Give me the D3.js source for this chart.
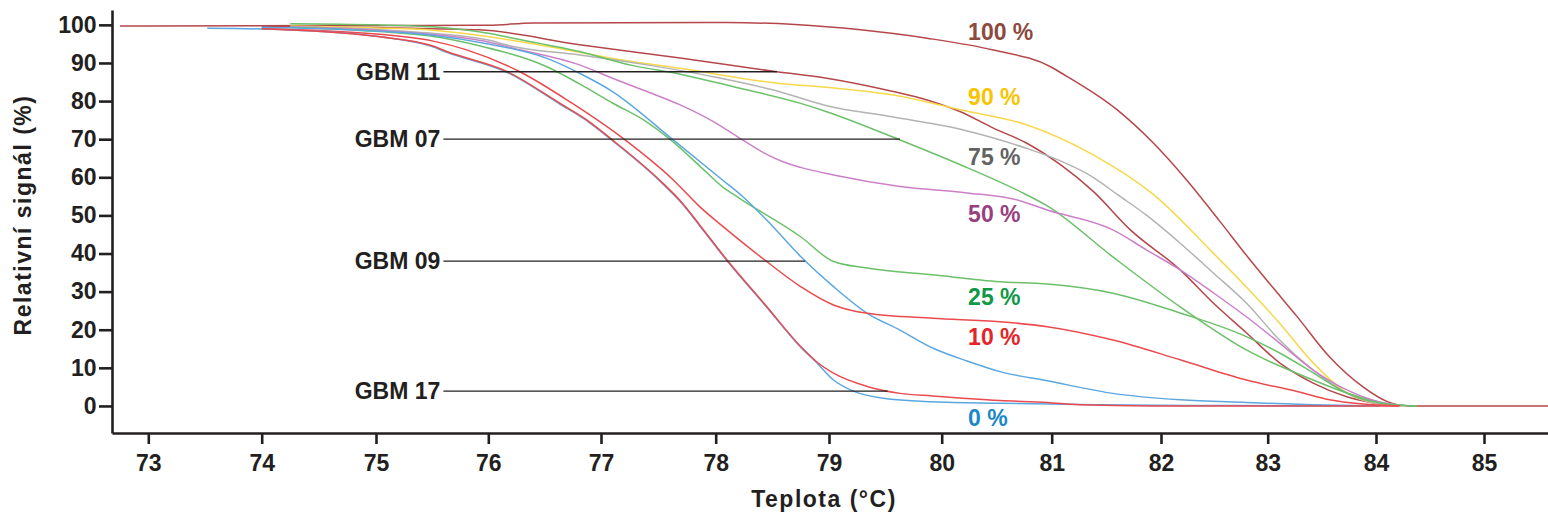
<!DOCTYPE html>
<html>
<head>
<meta charset="utf-8">
<script src="https://cdn.jsdelivr.net/npm/d3@7"></script>
<style>
  body { margin: 0; background: #fff; }
  svg { display: block; }
</style>
</head>
<body>
<script>
// ---- data ----
var xTicks = [73, 74, 75, 76, 77, 78, 79, 80, 81, 82, 83, 84, 85];
var yTicks = [0, 10, 20, 30, 40, 50, 60, 70, 80, 90, 100];

// each curve: [temperature, relative signal]
var curve100 = [[72.75,99.7],[74.5,99.8],[76.0,99.9],[76.4,100.5],[78.1,100.6],[78.7,100.1],[79.28,98.7],[79.87,96.5],[80.47,93.4],[80.99,89.0],[81.08,87.5],[81.60,77.7],[81.93,69.0],[82.24,59.3],[82.55,48.5],[82.83,38.5],[83.05,31.0],[83.27,23.5],[83.57,12.9],[83.88,5.0],[84.10,1.2],[84.31,0],[85.59,0]];
var curveGbm11 = [[74.0,99.6],[75.0,99.3],[75.5,99.0],[75.92,98.7],[76.81,94.8],[77.69,91.3],[78.54,87.7],[78.98,86.0],[79.57,82.5],[79.87,80.3],[80.17,77.2],[80.47,72.9],[80.77,69.0],[81.08,63.3],[81.38,56.3],[81.72,46.2],[82.18,35.7],[82.49,27.0],[82.80,19.2],[83.11,11.3],[83.42,6.0],[83.73,2.4],[84.04,0.5],[84.22,0]];
var curve90 = [[74.25,99.7],[75.0,99.2],[75.5,98.6],[75.77,97.8],[76.52,94.4],[77.10,91.2],[77.69,88.6],[78.54,84.7],[78.98,83.6],[79.57,81.6],[80.17,77.7],[80.77,73.8],[81.38,65.9],[81.93,55.5],[82.49,40.1],[82.80,31.2],[83.11,21.7],[83.42,11.3],[83.73,3.4],[84.04,0.5],[84.25,0]];
var curve75 = [[74.25,99.5],[75.0,98.8],[75.5,97.8],[76.0,96.0],[76.22,94.3],[76.81,92.1],[77.40,89.5],[77.98,86.4],[78.51,82.9],[78.98,78.8],[79.57,75.8],[80.17,72.6],[80.47,70.3],[80.77,67.6],[81.08,64.3],[81.38,60.0],[81.60,55.5],[81.87,50.0],[82.18,42.7],[82.49,34.9],[82.80,27.0],[83.11,17.3],[83.42,9.4],[83.73,3.4],[84.04,0.5],[84.25,0]];
var curveGbm07 = [[74.25,100.3],[75.0,100.0],[75.5,99.5],[76.0,97.8],[76.22,96.5],[76.81,93.0],[77.28,89.3],[77.70,87.0],[78.15,83.8],[78.75,79.4],[78.98,77.2],[79.63,69.8],[80.17,63.3],[80.71,56.3],[80.96,52.5],[81.56,39.1],[82.18,26.0],[82.80,14.7],[83.42,6.8],[83.73,3.4],[84.04,1.0],[84.34,0],[84.38,0]];
var curve50 = [[74.25,99.5],[75.0,98.6],[75.5,97.5],[76.0,95.5],[76.22,93.9],[76.81,89.5],[77.10,86.0],[77.40,82.5],[77.69,79.0],[77.98,74.6],[78.20,70.5],[78.45,66.0],[78.60,64.0],[78.75,62.6],[79.04,60.6],[79.63,57.6],[80.23,55.9],[80.68,54.1],[80.96,51.4],[81.56,46.2],[81.87,40.9],[82.18,35.7],[82.49,29.7],[82.80,23.4],[83.11,16.5],[83.42,9.4],[83.73,4.2],[84.04,1.0],[84.31,0]];
var curve25 = [[74.25,99.4],[75.0,98.3],[75.5,97.0],[75.92,94.5],[76.52,89.0],[76.81,84.5],[77.10,79.5],[77.40,74.5],[77.60,70.0],[77.86,63.0],[78.06,57.5],[78.21,54.5],[78.75,44.4],[79.04,37.9],[79.34,36.2],[79.92,34.4],[80.53,32.6],[80.96,32.0],[81.56,29.6],[82.18,24.4],[82.80,18.2],[83.11,13.9],[83.42,8.7],[83.73,3.4],[84.04,0.8],[84.38,0]];
var curveGbm09 = [[74.0,99.4],[75.0,98.4],[75.5,97.3],[76.0,95.0],[76.52,91.2],[76.81,87.3],[77.10,82.5],[77.63,69.8],[78.06,59.3],[78.24,54.9],[78.45,48.8],[78.75,39.2],[79.04,31.3],[79.34,24.3],[79.63,19.9],[79.92,15.2],[80.23,11.8],[80.53,9.0],[80.96,6.6],[81.56,3.3],[82.18,1.6],[82.80,0.9],[83.42,0.3],[84.04,0]];
var curve10 = [[74.0,99.0],[75.0,97.6],[75.5,95.8],[75.8,93.5],[76.28,87.7],[76.74,79.5],[77.21,69.8],[77.63,59.3],[77.86,52.3],[78.10,46.2],[78.45,37.9],[78.75,31.3],[79.04,26.5],[79.34,24.3],[79.92,23.0],[80.53,22.1],[80.96,20.8],[81.56,17.3],[82.18,12.1],[82.80,6.8],[83.27,3.8],[83.57,1.6],[83.88,0.5],[84.22,0]];
var curveGbm17 = [[74.0,99.0],[75.0,97.0],[75.5,94.5],[75.63,93.0],[76.17,87.7],[76.63,79.5],[76.90,74.5],[77.10,69.8],[77.51,59.3],[77.71,53.2],[77.86,47.5],[78.10,38.3],[78.45,26.1],[78.75,15.6],[78.89,11.6],[79.04,8.6],[79.34,5.1],[79.63,3.3],[79.92,2.6],[80.53,1.4],[80.96,0.9],[81.26,0.3],[81.9,0],[84.2,0]];
var curve0 = [[73.52,99.1],[74.0,98.9],[75.0,97.0],[75.5,94.3],[75.63,92.8],[76.17,87.5],[76.63,79.3],[76.90,74.3],[77.10,69.6],[77.51,59.1],[77.71,53.0],[77.86,47.3],[78.10,38.1],[78.45,25.9],[78.75,15.4],[78.89,11.4],[79.04,6.8],[79.19,4.2],[79.48,2.0],[79.92,1.1],[80.53,0.7],[81.4,0.3],[82.7,0.1],[83.9,0]];

// sample annotations: label, signal level of the pointer, temperature where it meets the curve
var gbmNames = ['GBM 11', 'GBM 07', 'GBM 09', 'GBM 17'];
var gbmLevels = [87.7, 70, 38, 3.9];
var gbmEnds = [78.54, 79.63, 78.79, 79.52];

// percent labels and the signal level they sit at
var pctNames = ['100 %', '90 %', '75 %', '50 %', '25 %', '10 %', '0 %'];
var pctLevels = [96.0, 79.0, 63.3, 48.3, 26.5, 16.0, -5.2];

// ---- layout ----
var width = 1548, height = 516;
var ink = '#231f20';
var font = '"Liberation Sans", Arial, Helvetica, sans-serif';

var svg = d3.select('body')
  .append('svg')
  .attr('width', width)
  .attr('height', height);

// the printed axis is slightly uneven, so the scale follows its tick marks
var xScale = d3.scaleLinear()
  .domain([72.68].concat(xTicks, [85.59]))
  .range([112, 148.3, 261.7, 376, 488.3, 601, 715.7, 829, 941.7, 1051.7, 1161, 1267.7, 1376, 1484, 1548]);
var yScale = d3.scaleLinear().domain([-7.1, 103.9]).range([433, 10]);

var line = d3.line()
  .x(function (d) { return xScale(d[0]); })
  .y(function (d) { return yScale(d[1]); })
  .curve(d3.curveMonotoneX);

var red = '#ea4a4e', blue = '#5ba7e0', green = '#6cc06a', brick = '#b5474b';
var curves = [
  { data: curve100, color: brick },
  { data: curveGbm11, color: brick },
  { data: curve90, color: '#f6d84a' },
  { data: curve75, color: '#b3b3b3' },
  { data: curveGbm07, color: green },
  { data: curve50, color: '#cc80c8' },
  { data: curve25, color: green },
  { data: curveGbm09, color: blue },
  { data: curve10, color: red },
  { data: curve0, color: blue },
  { data: curveGbm17, color: red }
];

svg.append('g').selectAll('path')
  .data(curves)
  .join('path')
  .attr('d', function (d) { return line(d.data); })
  .attr('fill', 'none')
  .attr('stroke', function (d) { return d.color; })
  .attr('stroke-width', 1.5);

// pointer lines for the samples
var gbm = svg.append('g');
gbm.selectAll('line')
  .data(gbmNames)
  .join('line')
  .attr('x1', xScale(75.6))
  .attr('x2', function (d, i) { return xScale(gbmEnds[i]); })
  .attr('y1', function (d, i) { return yScale(gbmLevels[i]); })
  .attr('y2', function (d, i) { return yScale(gbmLevels[i]); })
  .attr('stroke', ink)
  .attr('stroke-width', 1.3);
gbm.selectAll('text')
  .data(gbmNames)
  .join('text')
  .attr('x', xScale(75.6) - 3)
  .attr('y', function (d, i) { return yScale(gbmLevels[i]); })
  .attr('dy', '0.36em')
  .attr('text-anchor', 'end')
  .style('font', 'bold 23px ' + font)
  .attr('fill', ink)
  .text(function (d) { return d; });

// percent labels
var pctColors = ['#8b4a3c', '#f7c400', '#636363', '#98407f', '#119847', '#e42528', '#1b88ca'];
svg.append('g').selectAll('text')
  .data(pctNames)
  .join('text')
  .attr('x', xScale(80.24))
  .attr('y', function (d, i) { return yScale(pctLevels[i]); })
  .style('font', 'bold 23px ' + font)
  .attr('fill', function (d, i) { return pctColors[i]; })
  .text(function (d) { return d; });

// axes
var xAxis = d3.axisBottom(xScale).tickValues(xTicks).tickSize(11).tickPadding(11).tickSizeOuter(0);
var yAxis = d3.axisLeft(yScale).tickValues(yTicks).tickSize(13).tickPadding(2.5).tickSizeOuter(0);

var gx = svg.append('g').attr('transform', 'translate(0,433)').call(xAxis);
var gy = svg.append('g').attr('transform', 'translate(112,0)').call(yAxis);

[gx, gy].forEach(function (g) {
  g.selectAll('path, line').attr('stroke', ink).attr('stroke-width', 2.6);
  g.selectAll('text').attr('fill', ink).style('font', 'bold 23px ' + font);
});

// axis titles
svg.append('text')
  .attr('x', 824)
  .attr('y', 507)
  .attr('text-anchor', 'middle')
  .style('font', 'bold 23px ' + font)
  .style('letter-spacing', '1.5px')
  .attr('fill', ink)
  .text('Teplota (°C)');

svg.append('text')
  .attr('transform', 'translate(30.5,215) rotate(-90)')
  .attr('text-anchor', 'middle')
  .style('font', 'bold 23px ' + font)
  .style('letter-spacing', '1.5px')
  .attr('fill', ink)
  .text('Relativní signál (%)');
</script>
</body>
</html>
